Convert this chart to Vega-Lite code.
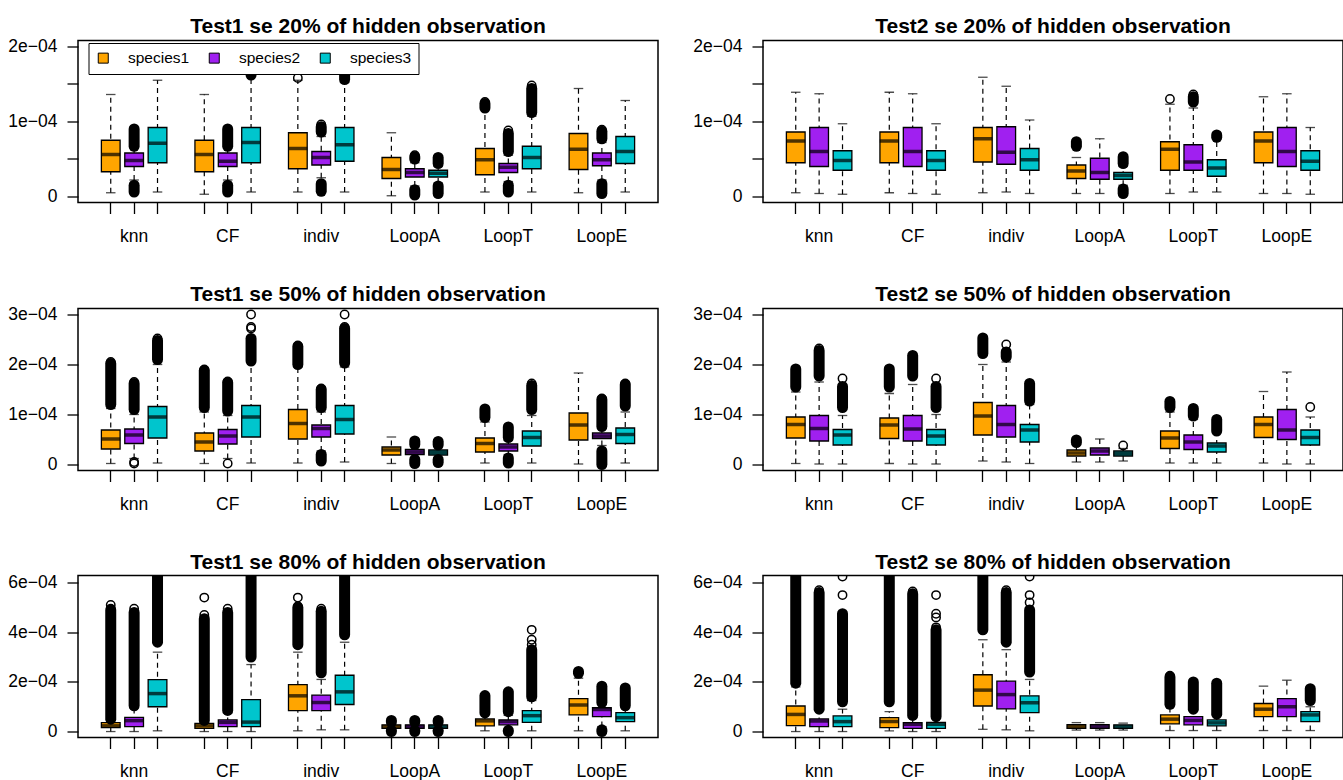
{
"$schema": "https://vega.github.io/schema/vega-lite/v6.json",
"padding": {"left": 7, "top": 14.5, "right": 0, "bottom": 0},
"background": "white",
"columns": 2,
"spacing": {"row": 36, "column": 33},
"resolve": {"scale": {"color": "independent"}, "legend": {"color": "independent"}},
"datasets": {
"boxes": [
{"panel":"T1_20","slot":"knn_1","species":"species1","lo":0.05e-4,"q1":0.33e-4,"med":0.56e-4,"q3":0.75e-4,"hi":1.36e-4},
{"panel":"T1_20","slot":"knn_2","species":"species2","lo":0.22e-4,"q1":0.40e-4,"med":0.48e-4,"q3":0.58e-4,"hi":0.64e-4},
{"panel":"T1_20","slot":"knn_3","species":"species3","lo":0.06e-4,"q1":0.45e-4,"med":0.71e-4,"q3":0.92e-4,"hi":1.55e-4},
{"panel":"T1_20","slot":"CF_1","species":"species1","lo":0.03e-4,"q1":0.33e-4,"med":0.56e-4,"q3":0.75e-4,"hi":1.36e-4},
{"panel":"T1_20","slot":"CF_2","species":"species2","lo":0.22e-4,"q1":0.40e-4,"med":0.47e-4,"q3":0.58e-4,"hi":0.64e-4},
{"panel":"T1_20","slot":"CF_3","species":"species3","lo":0.06e-4,"q1":0.45e-4,"med":0.72e-4,"q3":0.92e-4,"hi":1.61e-4},
{"panel":"T1_20","slot":"indiv_1","species":"species1","lo":0.06e-4,"q1":0.37e-4,"med":0.64e-4,"q3":0.85e-4,"hi":1.55e-4},
{"panel":"T1_20","slot":"indiv_2","species":"species2","lo":0.25e-4,"q1":0.42e-4,"med":0.52e-4,"q3":0.60e-4,"hi":0.80e-4},
{"panel":"T1_20","slot":"indiv_3","species":"species3","lo":0.06e-4,"q1":0.47e-4,"med":0.69e-4,"q3":0.92e-4,"hi":1.52e-4},
{"panel":"T1_20","slot":"LoopA_1","species":"species1","lo":0.01e-4,"q1":0.24e-4,"med":0.36e-4,"q3":0.52e-4,"hi":0.85e-4},
{"panel":"T1_20","slot":"LoopA_2","species":"species2","lo":0.14e-4,"q1":0.26e-4,"med":0.32e-4,"q3":0.37e-4,"hi":0.45e-4},
{"panel":"T1_20","slot":"LoopA_3","species":"species3","lo":0.18e-4,"q1":0.26e-4,"med":0.31e-4,"q3":0.35e-4,"hi":0.40e-4},
{"panel":"T1_20","slot":"LoopT_1","species":"species1","lo":0.06e-4,"q1":0.29e-4,"med":0.49e-4,"q3":0.64e-4,"hi":1.16e-4},
{"panel":"T1_20","slot":"LoopT_2","species":"species2","lo":0.20e-4,"q1":0.32e-4,"med":0.39e-4,"q3":0.44e-4,"hi":0.55e-4},
{"panel":"T1_20","slot":"LoopT_3","species":"species3","lo":0.06e-4,"q1":0.37e-4,"med":0.52e-4,"q3":0.67e-4,"hi":1.07e-4},
{"panel":"T1_20","slot":"LoopE_1","species":"species1","lo":0.05e-4,"q1":0.36e-4,"med":0.63e-4,"q3":0.84e-4,"hi":1.44e-4},
{"panel":"T1_20","slot":"LoopE_2","species":"species2","lo":0.22e-4,"q1":0.41e-4,"med":0.49e-4,"q3":0.58e-4,"hi":0.72e-4},
{"panel":"T1_20","slot":"LoopE_3","species":"species3","lo":0.06e-4,"q1":0.44e-4,"med":0.60e-4,"q3":0.80e-4,"hi":1.28e-4},

{"panel":"T2_20","slot":"knn_1","species":"species1","lo":0.05e-4,"q1":0.45e-4,"med":0.74e-4,"q3":0.86e-4,"hi":1.39e-4},
{"panel":"T2_20","slot":"knn_2","species":"species2","lo":0.04e-4,"q1":0.40e-4,"med":0.60e-4,"q3":0.92e-4,"hi":1.37e-4},
{"panel":"T2_20","slot":"knn_3","species":"species3","lo":0.03e-4,"q1":0.35e-4,"med":0.48e-4,"q3":0.61e-4,"hi":0.97e-4},
{"panel":"T2_20","slot":"CF_1","species":"species1","lo":0.05e-4,"q1":0.45e-4,"med":0.74e-4,"q3":0.86e-4,"hi":1.39e-4},
{"panel":"T2_20","slot":"CF_2","species":"species2","lo":0.04e-4,"q1":0.40e-4,"med":0.60e-4,"q3":0.92e-4,"hi":1.37e-4},
{"panel":"T2_20","slot":"CF_3","species":"species3","lo":0.03e-4,"q1":0.35e-4,"med":0.48e-4,"q3":0.61e-4,"hi":0.97e-4},
{"panel":"T2_20","slot":"indiv_1","species":"species1","lo":0.05e-4,"q1":0.46e-4,"med":0.77e-4,"q3":0.92e-4,"hi":1.59e-4},
{"panel":"T2_20","slot":"indiv_2","species":"species2","lo":0.06e-4,"q1":0.43e-4,"med":0.59e-4,"q3":0.93e-4,"hi":1.47e-4},
{"panel":"T2_20","slot":"indiv_3","species":"species3","lo":0.04e-4,"q1":0.35e-4,"med":0.49e-4,"q3":0.64e-4,"hi":1.02e-4},
{"panel":"T2_20","slot":"LoopA_1","species":"species1","lo":0.04e-4,"q1":0.24e-4,"med":0.34e-4,"q3":0.42e-4,"hi":0.52e-4},
{"panel":"T2_20","slot":"LoopA_2","species":"species2","lo":0.04e-4,"q1":0.23e-4,"med":0.32e-4,"q3":0.51e-4,"hi":0.77e-4},
{"panel":"T2_20","slot":"LoopA_3","species":"species3","lo":0.15e-4,"q1":0.23e-4,"med":0.28e-4,"q3":0.32e-4,"hi":0.40e-4},
{"panel":"T2_20","slot":"LoopT_1","species":"species1","lo":0.04e-4,"q1":0.35e-4,"med":0.63e-4,"q3":0.73e-4,"hi":1.23e-4},
{"panel":"T2_20","slot":"LoopT_2","species":"species2","lo":0.06e-4,"q1":0.35e-4,"med":0.46e-4,"q3":0.69e-4,"hi":1.18e-4},
{"panel":"T2_20","slot":"LoopT_3","species":"species3","lo":0.06e-4,"q1":0.27e-4,"med":0.38e-4,"q3":0.49e-4,"hi":0.76e-4},
{"panel":"T2_20","slot":"LoopE_1","species":"species1","lo":0.04e-4,"q1":0.45e-4,"med":0.74e-4,"q3":0.86e-4,"hi":1.33e-4},
{"panel":"T2_20","slot":"LoopE_2","species":"species2","lo":0.04e-4,"q1":0.40e-4,"med":0.60e-4,"q3":0.92e-4,"hi":1.37e-4},
{"panel":"T2_20","slot":"LoopE_3","species":"species3","lo":0.03e-4,"q1":0.35e-4,"med":0.47e-4,"q3":0.61e-4,"hi":0.92e-4},

{"panel":"T1_50","slot":"knn_1","species":"species1","lo":0.02e-4,"q1":0.31e-4,"med":0.51e-4,"q3":0.69e-4,"hi":1.12e-4},
{"panel":"T1_50","slot":"knn_2","species":"species2","lo":0.12e-4,"q1":0.42e-4,"med":0.59e-4,"q3":0.71e-4,"hi":1.00e-4},
{"panel":"T1_50","slot":"knn_3","species":"species3","lo":0.03e-4,"q1":0.53e-4,"med":0.95e-4,"q3":1.16e-4,"hi":2.00e-4},
{"panel":"T1_50","slot":"CF_1","species":"species1","lo":0.02e-4,"q1":0.27e-4,"med":0.45e-4,"q3":0.63e-4,"hi":1.05e-4},
{"panel":"T1_50","slot":"CF_2","species":"species2","lo":0.12e-4,"q1":0.41e-4,"med":0.57e-4,"q3":0.70e-4,"hi":0.98e-4},
{"panel":"T1_50","slot":"CF_3","species":"species3","lo":0.03e-4,"q1":0.55e-4,"med":0.95e-4,"q3":1.18e-4,"hi":2.05e-4},
{"panel":"T1_50","slot":"indiv_1","species":"species1","lo":0.03e-4,"q1":0.51e-4,"med":0.82e-4,"q3":1.10e-4,"hi":1.95e-4},
{"panel":"T1_50","slot":"indiv_2","species":"species2","lo":0.27e-4,"q1":0.55e-4,"med":0.72e-4,"q3":0.79e-4,"hi":1.05e-4},
{"panel":"T1_50","slot":"indiv_3","species":"species3","lo":0.05e-4,"q1":0.61e-4,"med":0.90e-4,"q3":1.18e-4,"hi":1.95e-4},
{"panel":"T1_50","slot":"LoopA_1","species":"species1","lo":0.02e-4,"q1":0.19e-4,"med":0.29e-4,"q3":0.35e-4,"hi":0.55e-4},
{"panel":"T1_50","slot":"LoopA_2","species":"species2","lo":0.12e-4,"q1":0.20e-4,"med":0.25e-4,"q3":0.30e-4,"hi":0.38e-4},
{"panel":"T1_50","slot":"LoopA_3","species":"species3","lo":0.12e-4,"q1":0.19e-4,"med":0.24e-4,"q3":0.29e-4,"hi":0.36e-4},
{"panel":"T1_50","slot":"LoopT_1","species":"species1","lo":0.03e-4,"q1":0.25e-4,"med":0.42e-4,"q3":0.53e-4,"hi":0.85e-4},
{"panel":"T1_50","slot":"LoopT_2","species":"species2","lo":0.20e-4,"q1":0.27e-4,"med":0.35e-4,"q3":0.41e-4,"hi":0.48e-4},
{"panel":"T1_50","slot":"LoopT_3","species":"species3","lo":0.03e-4,"q1":0.37e-4,"med":0.54e-4,"q3":0.67e-4,"hi":0.98e-4},
{"panel":"T1_50","slot":"LoopE_1","species":"species1","lo":0.01e-4,"q1":0.49e-4,"med":0.79e-4,"q3":1.03e-4,"hi":1.83e-4},
{"panel":"T1_50","slot":"LoopE_2","species":"species2","lo":0.38e-4,"q1":0.52e-4,"med":0.57e-4,"q3":0.63e-4,"hi":0.72e-4},
{"panel":"T1_50","slot":"LoopE_3","species":"species3","lo":0.03e-4,"q1":0.42e-4,"med":0.60e-4,"q3":0.73e-4,"hi":1.05e-4},

{"panel":"T2_50","slot":"knn_1","species":"species1","lo":0.02e-4,"q1":0.53e-4,"med":0.80e-4,"q3":0.95e-4,"hi":1.45e-4},
{"panel":"T2_50","slot":"knn_2","species":"species2","lo":0.01e-4,"q1":0.47e-4,"med":0.72e-4,"q3":0.98e-4,"hi":1.65e-4},
{"panel":"T2_50","slot":"knn_3","species":"species3","lo":0.01e-4,"q1":0.39e-4,"med":0.59e-4,"q3":0.70e-4,"hi":0.98e-4},
{"panel":"T2_50","slot":"CF_1","species":"species1","lo":0.02e-4,"q1":0.52e-4,"med":0.79e-4,"q3":0.93e-4,"hi":1.42e-4},
{"panel":"T2_50","slot":"CF_2","species":"species2","lo":0.01e-4,"q1":0.47e-4,"med":0.71e-4,"q3":0.98e-4,"hi":1.60e-4},
{"panel":"T2_50","slot":"CF_3","species":"species3","lo":0.01e-4,"q1":0.39e-4,"med":0.57e-4,"q3":0.70e-4,"hi":1.00e-4},
{"panel":"T2_50","slot":"indiv_1","species":"species1","lo":0.07e-4,"q1":0.59e-4,"med":0.97e-4,"q3":1.24e-4,"hi":2.00e-4},
{"panel":"T2_50","slot":"indiv_2","species":"species2","lo":0.05e-4,"q1":0.55e-4,"med":0.80e-4,"q3":1.18e-4,"hi":2.05e-4},
{"panel":"T2_50","slot":"indiv_3","species":"species3","lo":0.02e-4,"q1":0.45e-4,"med":0.69e-4,"q3":0.80e-4,"hi":1.20e-4},
{"panel":"T2_50","slot":"LoopA_1","species":"species1","lo":0.05e-4,"q1":0.17e-4,"med":0.23e-4,"q3":0.29e-4,"hi":0.40e-4},
{"panel":"T2_50","slot":"LoopA_2","species":"species2","lo":0.05e-4,"q1":0.19e-4,"med":0.27e-4,"q3":0.33e-4,"hi":0.51e-4},
{"panel":"T2_50","slot":"LoopA_3","species":"species3","lo":0.07e-4,"q1":0.17e-4,"med":0.22e-4,"q3":0.27e-4,"hi":0.32e-4},
{"panel":"T2_50","slot":"LoopT_1","species":"species1","lo":0.03e-4,"q1":0.32e-4,"med":0.53e-4,"q3":0.67e-4,"hi":1.05e-4},
{"panel":"T2_50","slot":"LoopT_2","species":"species2","lo":0.03e-4,"q1":0.30e-4,"med":0.45e-4,"q3":0.59e-4,"hi":0.90e-4},
{"panel":"T2_50","slot":"LoopT_3","species":"species3","lo":0.03e-4,"q1":0.25e-4,"med":0.37e-4,"q3":0.43e-4,"hi":0.70e-4},
{"panel":"T2_50","slot":"LoopE_1","species":"species1","lo":0.03e-4,"q1":0.54e-4,"med":0.80e-4,"q3":0.95e-4,"hi":1.46e-4},
{"panel":"T2_50","slot":"LoopE_2","species":"species2","lo":0.01e-4,"q1":0.50e-4,"med":0.69e-4,"q3":1.10e-4,"hi":1.85e-4},
{"panel":"T2_50","slot":"LoopE_3","species":"species3","lo":0.01e-4,"q1":0.39e-4,"med":0.54e-4,"q3":0.69e-4,"hi":0.95e-4},

{"panel":"T1_80","slot":"knn_1","species":"species1","lo":0.00e-4,"q1":0.16e-4,"med":0.23e-4,"q3":0.36e-4,"hi":0.60e-4},
{"panel":"T1_80","slot":"knn_2","species":"species2","lo":0.00e-4,"q1":0.20e-4,"med":0.44e-4,"q3":0.57e-4,"hi":0.95e-4},
{"panel":"T1_80","slot":"knn_3","species":"species3","lo":0.03e-4,"q1":1.00e-4,"med":1.53e-4,"q3":2.09e-4,"hi":3.20e-4},
{"panel":"T1_80","slot":"CF_1","species":"species1","lo":0.00e-4,"q1":0.13e-4,"med":0.23e-4,"q3":0.33e-4,"hi":0.55e-4},
{"panel":"T1_80","slot":"CF_2","species":"species2","lo":0.00e-4,"q1":0.20e-4,"med":0.37e-4,"q3":0.47e-4,"hi":0.75e-4},
{"panel":"T1_80","slot":"CF_3","species":"species3","lo":0.00e-4,"q1":0.20e-4,"med":0.38e-4,"q3":1.29e-4,"hi":2.70e-4},
{"panel":"T1_80","slot":"indiv_1","species":"species1","lo":0.03e-4,"q1":0.84e-4,"med":1.44e-4,"q3":1.89e-4,"hi":3.20e-4},
{"panel":"T1_80","slot":"indiv_2","species":"species2","lo":0.07e-4,"q1":0.84e-4,"med":1.17e-4,"q3":1.47e-4,"hi":2.10e-4},
{"panel":"T1_80","slot":"indiv_3","species":"species3","lo":0.07e-4,"q1":1.09e-4,"med":1.60e-4,"q3":2.27e-4,"hi":3.60e-4},
{"panel":"T1_80","slot":"LoopA_1","species":"species1","lo":0.07e-4,"q1":0.13e-4,"med":0.20e-4,"q3":0.27e-4,"hi":0.33e-4},
{"panel":"T1_80","slot":"LoopA_2","species":"species2","lo":0.07e-4,"q1":0.13e-4,"med":0.20e-4,"q3":0.27e-4,"hi":0.33e-4},
{"panel":"T1_80","slot":"LoopA_3","species":"species3","lo":0.07e-4,"q1":0.13e-4,"med":0.20e-4,"q3":0.27e-4,"hi":0.33e-4},
{"panel":"T1_80","slot":"LoopT_1","species":"species1","lo":0.03e-4,"q1":0.23e-4,"med":0.43e-4,"q3":0.51e-4,"hi":0.70e-4},
{"panel":"T1_80","slot":"LoopT_2","species":"species2","lo":0.10e-4,"q1":0.27e-4,"med":0.40e-4,"q3":0.47e-4,"hi":0.65e-4},
{"panel":"T1_80","slot":"LoopT_3","species":"species3","lo":0.03e-4,"q1":0.37e-4,"med":0.64e-4,"q3":0.84e-4,"hi":1.25e-4},
{"panel":"T1_80","slot":"LoopE_1","species":"species1","lo":0.03e-4,"q1":0.67e-4,"med":1.07e-4,"q3":1.33e-4,"hi":2.15e-4},
{"panel":"T1_80","slot":"LoopE_2","species":"species2","lo":0.20e-4,"q1":0.60e-4,"med":0.89e-4,"q3":0.96e-4,"hi":1.10e-4},
{"panel":"T1_80","slot":"LoopE_3","species":"species3","lo":0.03e-4,"q1":0.40e-4,"med":0.56e-4,"q3":0.76e-4,"hi":1.00e-4},

{"panel":"T2_80","slot":"knn_1","species":"species1","lo":0.00e-4,"q1":0.24e-4,"med":0.69e-4,"q3":1.03e-4,"hi":1.80e-4},
{"panel":"T2_80","slot":"knn_2","species":"species2","lo":0.00e-4,"q1":0.20e-4,"med":0.43e-4,"q3":0.51e-4,"hi":0.85e-4},
{"panel":"T2_80","slot":"knn_3","species":"species3","lo":0.00e-4,"q1":0.20e-4,"med":0.40e-4,"q3":0.63e-4,"hi":0.90e-4},
{"panel":"T2_80","slot":"CF_1","species":"species1","lo":0.03e-4,"q1":0.16e-4,"med":0.40e-4,"q3":0.56e-4,"hi":0.80e-4},
{"panel":"T2_80","slot":"CF_2","species":"species2","lo":0.00e-4,"q1":0.13e-4,"med":0.29e-4,"q3":0.36e-4,"hi":0.60e-4},
{"panel":"T2_80","slot":"CF_3","species":"species3","lo":0.00e-4,"q1":0.13e-4,"med":0.29e-4,"q3":0.37e-4,"hi":0.55e-4},
{"panel":"T2_80","slot":"indiv_1","species":"species1","lo":0.09e-4,"q1":1.03e-4,"med":1.67e-4,"q3":2.29e-4,"hi":3.70e-4},
{"panel":"T2_80","slot":"indiv_2","species":"species2","lo":0.07e-4,"q1":0.91e-4,"med":1.49e-4,"q3":2.03e-4,"hi":3.30e-4},
{"panel":"T2_80","slot":"indiv_3","species":"species3","lo":0.03e-4,"q1":0.76e-4,"med":1.16e-4,"q3":1.44e-4,"hi":2.10e-4},
{"panel":"T2_80","slot":"LoopA_1","species":"species1","lo":0.06e-4,"q1":0.13e-4,"med":0.20e-4,"q3":0.28e-4,"hi":0.36e-4},
{"panel":"T2_80","slot":"LoopA_2","species":"species2","lo":0.06e-4,"q1":0.13e-4,"med":0.20e-4,"q3":0.28e-4,"hi":0.36e-4},
{"panel":"T2_80","slot":"LoopA_3","species":"species3","lo":0.06e-4,"q1":0.13e-4,"med":0.20e-4,"q3":0.27e-4,"hi":0.34e-4},
{"panel":"T2_80","slot":"LoopT_1","species":"species1","lo":0.04e-4,"q1":0.31e-4,"med":0.50e-4,"q3":0.67e-4,"hi":1.00e-4},
{"panel":"T2_80","slot":"LoopT_2","species":"species2","lo":0.04e-4,"q1":0.27e-4,"med":0.45e-4,"q3":0.60e-4,"hi":0.85e-4},
{"panel":"T2_80","slot":"LoopT_3","species":"species3","lo":0.04e-4,"q1":0.23e-4,"med":0.35e-4,"q3":0.47e-4,"hi":0.65e-4},
{"panel":"T2_80","slot":"LoopE_1","species":"species1","lo":0.04e-4,"q1":0.60e-4,"med":0.90e-4,"q3":1.13e-4,"hi":1.83e-4},
{"panel":"T2_80","slot":"LoopE_2","species":"species2","lo":0.04e-4,"q1":0.60e-4,"med":1.00e-4,"q3":1.33e-4,"hi":2.07e-4},
{"panel":"T2_80","slot":"LoopE_3","species":"species3","lo":0.04e-4,"q1":0.40e-4,"med":0.67e-4,"q3":0.80e-4,"hi":1.00e-4}
],
"runs": [
{"panel":"T1_20","slot":"knn_2","from":0.67e-4,"to":0.90e-4},
{"panel":"T1_20","slot":"knn_2","from":0.06e-4,"to":0.15e-4},
{"panel":"T1_20","slot":"CF_2","from":0.67e-4,"to":0.90e-4},
{"panel":"T1_20","slot":"CF_2","from":0.06e-4,"to":0.15e-4},
{"panel":"T1_20","slot":"CF_3","from":1.62e-4,"to":1.66e-4},
{"panel":"T1_20","slot":"indiv_2","from":0.86e-4,"to":0.93e-4},
{"panel":"T1_20","slot":"indiv_2","from":0.07e-4,"to":0.17e-4},
{"panel":"T1_20","slot":"indiv_3","from":1.56e-4,"to":1.62e-4},
{"panel":"T1_20","slot":"LoopA_2","from":0.50e-4,"to":0.53e-4},
{"panel":"T1_20","slot":"LoopA_2","from":0.02e-4,"to":0.09e-4},
{"panel":"T1_20","slot":"LoopA_3","from":0.44e-4,"to":0.52e-4},
{"panel":"T1_20","slot":"LoopA_3","from":0.04e-4,"to":0.14e-4},
{"panel":"T1_20","slot":"LoopT_1","from":1.18e-4,"to":1.24e-4},
{"panel":"T1_20","slot":"LoopT_2","from":0.60e-4,"to":0.84e-4},
{"panel":"T1_20","slot":"LoopT_2","from":0.06e-4,"to":0.15e-4},
{"panel":"T1_20","slot":"LoopT_3","from":1.12e-4,"to":1.44e-4},
{"panel":"T1_20","slot":"LoopE_2","from":0.77e-4,"to":0.87e-4},
{"panel":"T1_20","slot":"LoopE_2","from":0.04e-4,"to":0.17e-4},

{"panel":"T2_20","slot":"LoopA_1","from":0.67e-4,"to":0.73e-4},
{"panel":"T2_20","slot":"LoopA_3","from":0.44e-4,"to":0.53e-4},
{"panel":"T2_20","slot":"LoopA_3","from":0.04e-4,"to":0.10e-4},
{"panel":"T2_20","slot":"LoopT_2","from":1.26e-4,"to":1.33e-4},
{"panel":"T2_20","slot":"LoopT_3","from":0.79e-4,"to":0.82e-4},

{"panel":"T1_50","slot":"knn_1","from":1.20e-4,"to":2.02e-4},
{"panel":"T1_50","slot":"knn_2","from":1.10e-4,"to":1.62e-4},
{"panel":"T1_50","slot":"knn_3","from":2.10e-4,"to":2.48e-4},
{"panel":"T1_50","slot":"CF_1","from":1.14e-4,"to":1.88e-4},
{"panel":"T1_50","slot":"CF_2","from":1.07e-4,"to":1.64e-4},
{"panel":"T1_50","slot":"CF_3","from":2.07e-4,"to":2.52e-4},
{"panel":"T1_50","slot":"indiv_1","from":2.00e-4,"to":2.36e-4},
{"panel":"T1_50","slot":"indiv_2","from":1.14e-4,"to":1.50e-4},
{"panel":"T1_50","slot":"indiv_2","from":0.07e-4,"to":0.20e-4},
{"panel":"T1_50","slot":"indiv_3","from":2.03e-4,"to":2.72e-4},
{"panel":"T1_50","slot":"LoopA_2","from":0.40e-4,"to":0.47e-4},
{"panel":"T1_50","slot":"LoopA_2","from":0.02e-4,"to":0.10e-4},
{"panel":"T1_50","slot":"LoopA_3","from":0.39e-4,"to":0.46e-4},
{"panel":"T1_50","slot":"LoopA_3","from":0.04e-4,"to":0.10e-4},
{"panel":"T1_50","slot":"LoopT_1","from":0.94e-4,"to":1.11e-4},
{"panel":"T1_50","slot":"LoopT_2","from":0.54e-4,"to":0.75e-4},
{"panel":"T1_50","slot":"LoopT_2","from":0.03e-4,"to":0.13e-4},
{"panel":"T1_50","slot":"LoopT_3","from":1.10e-4,"to":1.58e-4},
{"panel":"T1_50","slot":"LoopE_2","from":0.76e-4,"to":1.30e-4},
{"panel":"T1_50","slot":"LoopE_2","from":0.00e-4,"to":0.27e-4},
{"panel":"T1_50","slot":"LoopE_3","from":1.17e-4,"to":1.60e-4},

{"panel":"T2_50","slot":"knn_1","from":1.55e-4,"to":1.91e-4},
{"panel":"T2_50","slot":"knn_2","from":1.77e-4,"to":2.28e-4},
{"panel":"T2_50","slot":"knn_3","from":1.14e-4,"to":1.56e-4},
{"panel":"T2_50","slot":"CF_1","from":1.55e-4,"to":1.91e-4},
{"panel":"T2_50","slot":"CF_2","from":1.77e-4,"to":2.18e-4},
{"panel":"T2_50","slot":"CF_3","from":1.14e-4,"to":1.56e-4},
{"panel":"T2_50","slot":"indiv_1","from":2.22e-4,"to":2.53e-4},
{"panel":"T2_50","slot":"indiv_2","from":2.15e-4,"to":2.25e-4},
{"panel":"T2_50","slot":"indiv_3","from":1.27e-4,"to":1.62e-4},
{"panel":"T2_50","slot":"LoopA_1","from":0.44e-4,"to":0.49e-4},
{"panel":"T2_50","slot":"LoopT_1","from":1.14e-4,"to":1.26e-4},
{"panel":"T2_50","slot":"LoopT_2","from":0.97e-4,"to":1.12e-4},
{"panel":"T2_50","slot":"LoopT_3","from":0.67e-4,"to":0.90e-4},

{"panel":"T1_80","slot":"knn_1","from":0.50e-4,"to":4.90e-4},
{"panel":"T1_80","slot":"knn_2","from":1.04e-4,"to":4.80e-4},
{"panel":"T1_80","slot":"knn_3","from":3.60e-4,"to":6.60e-4},
{"panel":"T1_80","slot":"CF_1","from":0.45e-4,"to":4.55e-4},
{"panel":"T1_80","slot":"CF_2","from":0.85e-4,"to":4.80e-4},
{"panel":"T1_80","slot":"CF_3","from":3.00e-4,"to":6.60e-4},
{"panel":"T1_80","slot":"indiv_1","from":3.50e-4,"to":5.00e-4},
{"panel":"T1_80","slot":"indiv_2","from":2.37e-4,"to":4.85e-4},
{"panel":"T1_80","slot":"indiv_3","from":3.90e-4,"to":6.60e-4},
{"panel":"T1_80","slot":"LoopA_1","from":0.38e-4,"to":0.45e-4},
{"panel":"T1_80","slot":"LoopA_1","from":0.00e-4,"to":0.05e-4},
{"panel":"T1_80","slot":"LoopA_2","from":0.38e-4,"to":0.45e-4},
{"panel":"T1_80","slot":"LoopA_2","from":0.00e-4,"to":0.05e-4},
{"panel":"T1_80","slot":"LoopA_3","from":0.38e-4,"to":0.45e-4},
{"panel":"T1_80","slot":"LoopA_3","from":0.00e-4,"to":0.05e-4},
{"panel":"T1_80","slot":"LoopT_1","from":0.75e-4,"to":1.45e-4},
{"panel":"T1_80","slot":"LoopT_2","from":0.80e-4,"to":1.60e-4},
{"panel":"T1_80","slot":"LoopT_2","from":0.00e-4,"to":0.05e-4},
{"panel":"T1_80","slot":"LoopT_3","from":1.40e-4,"to":3.30e-4},
{"panel":"T1_80","slot":"LoopE_1","from":2.35e-4,"to":2.42e-4},
{"panel":"T1_80","slot":"LoopE_2","from":1.17e-4,"to":1.83e-4},
{"panel":"T1_80","slot":"LoopE_2","from":0.00e-4,"to":0.07e-4},
{"panel":"T1_80","slot":"LoopE_3","from":1.04e-4,"to":1.76e-4},

{"panel":"T2_80","slot":"knn_1","from":1.95e-4,"to":6.60e-4},
{"panel":"T2_80","slot":"knn_2","from":0.90e-4,"to":5.60e-4},
{"panel":"T2_80","slot":"knn_3","from":1.20e-4,"to":4.75e-4},
{"panel":"T2_80","slot":"CF_1","from":1.20e-4,"to":6.60e-4},
{"panel":"T2_80","slot":"CF_2","from":0.65e-4,"to":5.55e-4},
{"panel":"T2_80","slot":"CF_3","from":0.60e-4,"to":4.10e-4},
{"panel":"T2_80","slot":"indiv_1","from":4.10e-4,"to":6.60e-4},
{"panel":"T2_80","slot":"indiv_2","from":3.60e-4,"to":5.60e-4},
{"panel":"T2_80","slot":"indiv_3","from":2.40e-4,"to":4.90e-4},
{"panel":"T2_80","slot":"LoopT_1","from":1.10e-4,"to":2.20e-4},
{"panel":"T2_80","slot":"LoopT_2","from":0.90e-4,"to":2.00e-4},
{"panel":"T2_80","slot":"LoopT_3","from":0.70e-4,"to":1.95e-4},
{"panel":"T2_80","slot":"LoopE_3","from":1.25e-4,"to":1.73e-4}
],
"points": [
{"panel":"T1_20","slot":"indiv_1","se":1.58e-4},
{"panel":"T1_20","slot":"indiv_2","se":0.96e-4},
{"panel":"T1_20","slot":"LoopA_2","se":0.55e-4},
{"panel":"T1_20","slot":"LoopT_1","se":1.26e-4},
{"panel":"T1_20","slot":"LoopT_2","se":0.88e-4},
{"panel":"T1_20","slot":"LoopT_3","se":1.48e-4},
{"panel":"T1_20","slot":"LoopE_2","se":0.89e-4},
{"panel":"T2_20","slot":"LoopT_1","se":1.30e-4},
{"panel":"T2_20","slot":"LoopT_2","se":1.36e-4},
{"panel":"T1_50","slot":"knn_1","se":2.05e-4},
{"panel":"T1_50","slot":"knn_2","se":1.65e-4},
{"panel":"T1_50","slot":"knn_2","se":0.02e-4},
{"panel":"T1_50","slot":"knn_2","se":0.05e-4},
{"panel":"T1_50","slot":"knn_3","se":2.52e-4},
{"panel":"T1_50","slot":"CF_1","se":1.90e-4},
{"panel":"T1_50","slot":"CF_2","se":1.66e-4},
{"panel":"T1_50","slot":"CF_2","se":0.02e-4},
{"panel":"T1_50","slot":"CF_3","se":2.72e-4},
{"panel":"T1_50","slot":"CF_3","se":2.75e-4},
{"panel":"T1_50","slot":"CF_3","se":3.00e-4},
{"panel":"T1_50","slot":"indiv_1","se":2.38e-4},
{"panel":"T1_50","slot":"indiv_2","se":1.52e-4},
{"panel":"T1_50","slot":"indiv_3","se":2.75e-4},
{"panel":"T1_50","slot":"indiv_3","se":3.00e-4},
{"panel":"T1_50","slot":"LoopT_3","se":1.62e-4},
{"panel":"T1_50","slot":"LoopE_2","se":1.32e-4},
{"panel":"T1_50","slot":"LoopE_3","se":1.62e-4},
{"panel":"T2_50","slot":"knn_2","se":2.32e-4},
{"panel":"T2_50","slot":"knn_3","se":1.72e-4},
{"panel":"T2_50","slot":"CF_3","se":1.72e-4},
{"panel":"T2_50","slot":"indiv_2","se":2.40e-4},
{"panel":"T2_50","slot":"LoopA_3","se":0.38e-4},
{"panel":"T2_50","slot":"LoopT_1","se":1.22e-4},
{"panel":"T2_50","slot":"LoopE_3","se":1.15e-4},
{"panel":"T1_80","slot":"knn_1","se":5.10e-4},
{"panel":"T1_80","slot":"knn_1","se":4.95e-4},
{"panel":"T1_80","slot":"knn_2","se":4.95e-4},
{"panel":"T1_80","slot":"CF_1","se":4.70e-4},
{"panel":"T1_80","slot":"CF_1","se":5.40e-4},
{"panel":"T1_80","slot":"CF_2","se":4.95e-4},
{"panel":"T1_80","slot":"indiv_1","se":5.40e-4},
{"panel":"T1_80","slot":"indiv_1","se":5.05e-4},
{"panel":"T1_80","slot":"indiv_2","se":4.95e-4},
{"panel":"T1_80","slot":"LoopT_3","se":3.50e-4},
{"panel":"T1_80","slot":"LoopT_3","se":3.70e-4},
{"panel":"T1_80","slot":"LoopT_3","se":4.10e-4},
{"panel":"T1_80","slot":"LoopE_1","se":2.40e-4},
{"panel":"T2_80","slot":"knn_2","se":5.70e-4},
{"panel":"T2_80","slot":"knn_3","se":5.50e-4},
{"panel":"T2_80","slot":"knn_3","se":6.25e-4},
{"panel":"T2_80","slot":"CF_2","se":5.65e-4},
{"panel":"T2_80","slot":"CF_3","se":4.20e-4},
{"panel":"T2_80","slot":"CF_3","se":4.60e-4},
{"panel":"T2_80","slot":"CF_3","se":4.75e-4},
{"panel":"T2_80","slot":"CF_3","se":5.50e-4},
{"panel":"T2_80","slot":"indiv_2","se":5.70e-4},
{"panel":"T2_80","slot":"indiv_3","se":5.20e-4},
{"panel":"T2_80","slot":"indiv_3","se":5.50e-4},
{"panel":"T2_80","slot":"indiv_3","se":6.25e-4},
{"panel":"T2_80","slot":"LoopT_1","se":2.25e-4}
]
},
"concat": [
{
"width": 580, "height": 162,
"title": "Test1 se 20% of hidden observation",
"encoding": {"x": {"field": "slot", "type": "nominal", "title": null, "scale": {"domain": ["knn_1","knn_2","knn_3","g1","CF_1","CF_2","CF_3","g2","indiv_1","indiv_2","indiv_3","g3","LoopA_1","LoopA_2","LoopA_3","g4","LoopT_1","LoopT_2","LoopT_3","g5","LoopE_1","LoopE_2","LoopE_3"], "paddingInner": 0.2, "paddingOuter": 1}, "axis": {"values": ["knn_1","knn_2","knn_3","CF_1","CF_2","CF_3","indiv_1","indiv_2","indiv_3","LoopA_1","LoopA_2","LoopA_3","LoopT_1","LoopT_2","LoopT_3","LoopE_1","LoopE_2","LoopE_3"], "labelExpr": "split(datum.value, '_')[1] == '2' ? split(datum.value, '_')[0] : ''"}}},
"layer": [
{"data": {"name": "boxes"}, "transform": [{"filter": "datum.panel == 'T1_20'"}], "mark": {"type": "rule", "color": "black", "strokeWidth": 1.2, "strokeDash": [5, 4]}, "encoding": {"y": {"field": "lo", "type": "quantitative", "title": null, "scale": {"domain": [-0.08e-4, 2.08e-4], "nice": false, "zero": false}, "axis": {"values": [0, 0.5e-4, 1e-4, 1.5e-4, 2e-4], "labelExpr": "datum.value == 0 ? '0' : (abs(datum.value*1e4 - round(datum.value*1e4)) < 1e-6 ? round(datum.value*1e4) + 'e−04' : '')"}}, "y2": {"field": "hi"}}},
{"data": {"name": "boxes"}, "transform": [{"filter": "datum.panel == 'T1_20'"}], "mark": {"type": "tick", "orient": "horizontal", "size": 9.5, "thickness": 1.3, "color": "black"}, "encoding": {"y": {"field": "lo", "type": "quantitative", "title": null}}},
{"data": {"name": "boxes"}, "transform": [{"filter": "datum.panel == 'T1_20'"}], "mark": {"type": "tick", "orient": "horizontal", "size": 9.5, "thickness": 1.3, "color": "black"}, "encoding": {"y": {"field": "hi", "type": "quantitative", "title": null}}},
{"data": {"name": "boxes"}, "transform": [{"filter": "datum.panel == 'T1_20'"}], "mark": {"type": "bar", "stroke": "black", "strokeWidth": 1.3}, "encoding": {"y": {"field": "q1", "type": "quantitative", "title": null}, "y2": {"field": "q3"}, "color": {"field": "species", "type": "nominal", "legend": {"orient": "none", "legendX": 10.5, "legendY": 2.5, "direction": "horizontal", "title": null, "symbolType": "square", "symbolSize": 100, "symbolStrokeColor": "black", "symbolStrokeWidth": 1, "labelFontSize": 15.5, "labelColor": "black", "labelOffset": 17, "columnPadding": 17, "strokeColor": "black", "padding": 7, "fillColor": "white"}}}},
{"data": {"name": "boxes"}, "transform": [{"filter": "datum.panel == 'T1_20'"}], "mark": {"type": "tick", "orient": "horizontal", "size": 19, "thickness": 3.5, "color": "black"}, "encoding": {"y": {"field": "med", "type": "quantitative", "title": null}}},
{"data": {"name": "runs"}, "transform": [{"filter": "datum.panel == 'T1_20'"}], "mark": {"type": "rule", "color": "black", "strokeWidth": 11, "strokeCap": "round", "clip": true}, "encoding": {"y": {"field": "from", "type": "quantitative", "title": null}, "y2": {"field": "to"}}},
{"data": {"name": "points"}, "transform": [{"filter": "datum.panel == 'T1_20'"}], "mark": {"type": "point", "shape": "circle", "filled": false, "size": 70, "color": "black", "strokeWidth": 1.5, "opacity": 1, "clip": true}, "encoding": {"y": {"field": "se", "type": "quantitative", "title": null}}}
]
},
{
"width": 580, "height": 162,
"title": "Test2 se 20% of hidden observation",
"encoding": {"x": {"field": "slot", "type": "nominal", "title": null, "scale": {"domain": ["knn_1","knn_2","knn_3","g1","CF_1","CF_2","CF_3","g2","indiv_1","indiv_2","indiv_3","g3","LoopA_1","LoopA_2","LoopA_3","g4","LoopT_1","LoopT_2","LoopT_3","g5","LoopE_1","LoopE_2","LoopE_3"], "paddingInner": 0.2, "paddingOuter": 1}, "axis": {"values": ["knn_1","knn_2","knn_3","CF_1","CF_2","CF_3","indiv_1","indiv_2","indiv_3","LoopA_1","LoopA_2","LoopA_3","LoopT_1","LoopT_2","LoopT_3","LoopE_1","LoopE_2","LoopE_3"], "labelExpr": "split(datum.value, '_')[1] == '2' ? split(datum.value, '_')[0] : ''"}}},
"layer": [
{"data": {"name": "boxes"}, "transform": [{"filter": "datum.panel == 'T2_20'"}], "mark": {"type": "rule", "color": "black", "strokeWidth": 1.2, "strokeDash": [5, 4]}, "encoding": {"y": {"field": "lo", "type": "quantitative", "title": null, "scale": {"domain": [-0.08e-4, 2.08e-4], "nice": false, "zero": false}, "axis": {"values": [0, 0.5e-4, 1e-4, 1.5e-4, 2e-4], "labelExpr": "datum.value == 0 ? '0' : (abs(datum.value*1e4 - round(datum.value*1e4)) < 1e-6 ? round(datum.value*1e4) + 'e−04' : '')"}}, "y2": {"field": "hi"}}},
{"data": {"name": "boxes"}, "transform": [{"filter": "datum.panel == 'T2_20'"}], "mark": {"type": "tick", "orient": "horizontal", "size": 9.5, "thickness": 1.3, "color": "black"}, "encoding": {"y": {"field": "lo", "type": "quantitative", "title": null}}},
{"data": {"name": "boxes"}, "transform": [{"filter": "datum.panel == 'T2_20'"}], "mark": {"type": "tick", "orient": "horizontal", "size": 9.5, "thickness": 1.3, "color": "black"}, "encoding": {"y": {"field": "hi", "type": "quantitative", "title": null}}},
{"data": {"name": "boxes"}, "transform": [{"filter": "datum.panel == 'T2_20'"}], "mark": {"type": "bar", "stroke": "black", "strokeWidth": 1.3}, "encoding": {"y": {"field": "q1", "type": "quantitative", "title": null}, "y2": {"field": "q3"}, "color": {"field": "species", "type": "nominal", "legend": null}}},
{"data": {"name": "boxes"}, "transform": [{"filter": "datum.panel == 'T2_20'"}], "mark": {"type": "tick", "orient": "horizontal", "size": 19, "thickness": 3.5, "color": "black"}, "encoding": {"y": {"field": "med", "type": "quantitative", "title": null}}},
{"data": {"name": "runs"}, "transform": [{"filter": "datum.panel == 'T2_20'"}], "mark": {"type": "rule", "color": "black", "strokeWidth": 11, "strokeCap": "round", "clip": true}, "encoding": {"y": {"field": "from", "type": "quantitative", "title": null}, "y2": {"field": "to"}}},
{"data": {"name": "points"}, "transform": [{"filter": "datum.panel == 'T2_20'"}], "mark": {"type": "point", "shape": "circle", "filled": false, "size": 70, "color": "black", "strokeWidth": 1.5, "opacity": 1, "clip": true}, "encoding": {"y": {"field": "se", "type": "quantitative", "title": null}}}
]
},
{
"width": 580, "height": 162,
"title": "Test1 se 50% of hidden observation",
"encoding": {"x": {"field": "slot", "type": "nominal", "title": null, "scale": {"domain": ["knn_1","knn_2","knn_3","g1","CF_1","CF_2","CF_3","g2","indiv_1","indiv_2","indiv_3","g3","LoopA_1","LoopA_2","LoopA_3","g4","LoopT_1","LoopT_2","LoopT_3","g5","LoopE_1","LoopE_2","LoopE_3"], "paddingInner": 0.2, "paddingOuter": 1}, "axis": {"values": ["knn_1","knn_2","knn_3","CF_1","CF_2","CF_3","indiv_1","indiv_2","indiv_3","LoopA_1","LoopA_2","LoopA_3","LoopT_1","LoopT_2","LoopT_3","LoopE_1","LoopE_2","LoopE_3"], "labelExpr": "split(datum.value, '_')[1] == '2' ? split(datum.value, '_')[0] : ''"}}},
"layer": [
{"data": {"name": "boxes"}, "transform": [{"filter": "datum.panel == 'T1_50'"}], "mark": {"type": "rule", "color": "black", "strokeWidth": 1.2, "strokeDash": [5, 4]}, "encoding": {"y": {"field": "lo", "type": "quantitative", "title": null, "scale": {"domain": [-0.12e-4, 3.12e-4], "nice": false, "zero": false}, "axis": {"values": [0, 1e-4, 2e-4, 3e-4], "labelExpr": "datum.value == 0 ? '0' : (abs(datum.value*1e4 - round(datum.value*1e4)) < 1e-6 ? round(datum.value*1e4) + 'e−04' : '')"}}, "y2": {"field": "hi"}}},
{"data": {"name": "boxes"}, "transform": [{"filter": "datum.panel == 'T1_50'"}], "mark": {"type": "tick", "orient": "horizontal", "size": 9.5, "thickness": 1.3, "color": "black"}, "encoding": {"y": {"field": "lo", "type": "quantitative", "title": null}}},
{"data": {"name": "boxes"}, "transform": [{"filter": "datum.panel == 'T1_50'"}], "mark": {"type": "tick", "orient": "horizontal", "size": 9.5, "thickness": 1.3, "color": "black"}, "encoding": {"y": {"field": "hi", "type": "quantitative", "title": null}}},
{"data": {"name": "boxes"}, "transform": [{"filter": "datum.panel == 'T1_50'"}], "mark": {"type": "bar", "stroke": "black", "strokeWidth": 1.3}, "encoding": {"y": {"field": "q1", "type": "quantitative", "title": null}, "y2": {"field": "q3"}, "color": {"field": "species", "type": "nominal", "legend": null}}},
{"data": {"name": "boxes"}, "transform": [{"filter": "datum.panel == 'T1_50'"}], "mark": {"type": "tick", "orient": "horizontal", "size": 19, "thickness": 3.5, "color": "black"}, "encoding": {"y": {"field": "med", "type": "quantitative", "title": null}}},
{"data": {"name": "runs"}, "transform": [{"filter": "datum.panel == 'T1_50'"}], "mark": {"type": "rule", "color": "black", "strokeWidth": 11, "strokeCap": "round", "clip": true}, "encoding": {"y": {"field": "from", "type": "quantitative", "title": null}, "y2": {"field": "to"}}},
{"data": {"name": "points"}, "transform": [{"filter": "datum.panel == 'T1_50'"}], "mark": {"type": "point", "shape": "circle", "filled": false, "size": 70, "color": "black", "strokeWidth": 1.5, "opacity": 1, "clip": true}, "encoding": {"y": {"field": "se", "type": "quantitative", "title": null}}}
]
},
{
"width": 580, "height": 162,
"title": "Test2 se 50% of hidden observation",
"encoding": {"x": {"field": "slot", "type": "nominal", "title": null, "scale": {"domain": ["knn_1","knn_2","knn_3","g1","CF_1","CF_2","CF_3","g2","indiv_1","indiv_2","indiv_3","g3","LoopA_1","LoopA_2","LoopA_3","g4","LoopT_1","LoopT_2","LoopT_3","g5","LoopE_1","LoopE_2","LoopE_3"], "paddingInner": 0.2, "paddingOuter": 1}, "axis": {"values": ["knn_1","knn_2","knn_3","CF_1","CF_2","CF_3","indiv_1","indiv_2","indiv_3","LoopA_1","LoopA_2","LoopA_3","LoopT_1","LoopT_2","LoopT_3","LoopE_1","LoopE_2","LoopE_3"], "labelExpr": "split(datum.value, '_')[1] == '2' ? split(datum.value, '_')[0] : ''"}}},
"layer": [
{"data": {"name": "boxes"}, "transform": [{"filter": "datum.panel == 'T2_50'"}], "mark": {"type": "rule", "color": "black", "strokeWidth": 1.2, "strokeDash": [5, 4]}, "encoding": {"y": {"field": "lo", "type": "quantitative", "title": null, "scale": {"domain": [-0.12e-4, 3.12e-4], "nice": false, "zero": false}, "axis": {"values": [0, 1e-4, 2e-4, 3e-4], "labelExpr": "datum.value == 0 ? '0' : (abs(datum.value*1e4 - round(datum.value*1e4)) < 1e-6 ? round(datum.value*1e4) + 'e−04' : '')"}}, "y2": {"field": "hi"}}},
{"data": {"name": "boxes"}, "transform": [{"filter": "datum.panel == 'T2_50'"}], "mark": {"type": "tick", "orient": "horizontal", "size": 9.5, "thickness": 1.3, "color": "black"}, "encoding": {"y": {"field": "lo", "type": "quantitative", "title": null}}},
{"data": {"name": "boxes"}, "transform": [{"filter": "datum.panel == 'T2_50'"}], "mark": {"type": "tick", "orient": "horizontal", "size": 9.5, "thickness": 1.3, "color": "black"}, "encoding": {"y": {"field": "hi", "type": "quantitative", "title": null}}},
{"data": {"name": "boxes"}, "transform": [{"filter": "datum.panel == 'T2_50'"}], "mark": {"type": "bar", "stroke": "black", "strokeWidth": 1.3}, "encoding": {"y": {"field": "q1", "type": "quantitative", "title": null}, "y2": {"field": "q3"}, "color": {"field": "species", "type": "nominal", "legend": null}}},
{"data": {"name": "boxes"}, "transform": [{"filter": "datum.panel == 'T2_50'"}], "mark": {"type": "tick", "orient": "horizontal", "size": 19, "thickness": 3.5, "color": "black"}, "encoding": {"y": {"field": "med", "type": "quantitative", "title": null}}},
{"data": {"name": "runs"}, "transform": [{"filter": "datum.panel == 'T2_50'"}], "mark": {"type": "rule", "color": "black", "strokeWidth": 11, "strokeCap": "round", "clip": true}, "encoding": {"y": {"field": "from", "type": "quantitative", "title": null}, "y2": {"field": "to"}}},
{"data": {"name": "points"}, "transform": [{"filter": "datum.panel == 'T2_50'"}], "mark": {"type": "point", "shape": "circle", "filled": false, "size": 70, "color": "black", "strokeWidth": 1.5, "opacity": 1, "clip": true}, "encoding": {"y": {"field": "se", "type": "quantitative", "title": null}}}
]
},
{
"width": 580, "height": 162,
"title": "Test1 se 80% of hidden observation",
"encoding": {"x": {"field": "slot", "type": "nominal", "title": null, "scale": {"domain": ["knn_1","knn_2","knn_3","g1","CF_1","CF_2","CF_3","g2","indiv_1","indiv_2","indiv_3","g3","LoopA_1","LoopA_2","LoopA_3","g4","LoopT_1","LoopT_2","LoopT_3","g5","LoopE_1","LoopE_2","LoopE_3"], "paddingInner": 0.2, "paddingOuter": 1}, "axis": {"values": ["knn_1","knn_2","knn_3","CF_1","CF_2","CF_3","indiv_1","indiv_2","indiv_3","LoopA_1","LoopA_2","LoopA_3","LoopT_1","LoopT_2","LoopT_3","LoopE_1","LoopE_2","LoopE_3"], "labelExpr": "split(datum.value, '_')[1] == '2' ? split(datum.value, '_')[0] : ''"}}},
"layer": [
{"data": {"name": "boxes"}, "transform": [{"filter": "datum.panel == 'T1_80'"}], "mark": {"type": "rule", "color": "black", "strokeWidth": 1.2, "strokeDash": [5, 4]}, "encoding": {"y": {"field": "lo", "type": "quantitative", "title": null, "scale": {"domain": [-0.24e-4, 6.29e-4], "nice": false, "zero": false}, "axis": {"values": [0, 2e-4, 4e-4, 6e-4], "labelExpr": "datum.value == 0 ? '0' : (abs(datum.value*1e4 - round(datum.value*1e4)) < 1e-6 ? round(datum.value*1e4) + 'e−04' : '')"}}, "y2": {"field": "hi"}}},
{"data": {"name": "boxes"}, "transform": [{"filter": "datum.panel == 'T1_80'"}], "mark": {"type": "tick", "orient": "horizontal", "size": 9.5, "thickness": 1.3, "color": "black"}, "encoding": {"y": {"field": "lo", "type": "quantitative", "title": null}}},
{"data": {"name": "boxes"}, "transform": [{"filter": "datum.panel == 'T1_80'"}], "mark": {"type": "tick", "orient": "horizontal", "size": 9.5, "thickness": 1.3, "color": "black"}, "encoding": {"y": {"field": "hi", "type": "quantitative", "title": null}}},
{"data": {"name": "boxes"}, "transform": [{"filter": "datum.panel == 'T1_80'"}], "mark": {"type": "bar", "stroke": "black", "strokeWidth": 1.3}, "encoding": {"y": {"field": "q1", "type": "quantitative", "title": null}, "y2": {"field": "q3"}, "color": {"field": "species", "type": "nominal", "legend": null}}},
{"data": {"name": "boxes"}, "transform": [{"filter": "datum.panel == 'T1_80'"}], "mark": {"type": "tick", "orient": "horizontal", "size": 19, "thickness": 3.5, "color": "black"}, "encoding": {"y": {"field": "med", "type": "quantitative", "title": null}}},
{"data": {"name": "runs"}, "transform": [{"filter": "datum.panel == 'T1_80'"}], "mark": {"type": "rule", "color": "black", "strokeWidth": 11, "strokeCap": "round", "clip": true}, "encoding": {"y": {"field": "from", "type": "quantitative", "title": null}, "y2": {"field": "to"}}},
{"data": {"name": "points"}, "transform": [{"filter": "datum.panel == 'T1_80'"}], "mark": {"type": "point", "shape": "circle", "filled": false, "size": 70, "color": "black", "strokeWidth": 1.5, "opacity": 1, "clip": true}, "encoding": {"y": {"field": "se", "type": "quantitative", "title": null}}}
]
},
{
"width": 580, "height": 162,
"title": "Test2 se 80% of hidden observation",
"encoding": {"x": {"field": "slot", "type": "nominal", "title": null, "scale": {"domain": ["knn_1","knn_2","knn_3","g1","CF_1","CF_2","CF_3","g2","indiv_1","indiv_2","indiv_3","g3","LoopA_1","LoopA_2","LoopA_3","g4","LoopT_1","LoopT_2","LoopT_3","g5","LoopE_1","LoopE_2","LoopE_3"], "paddingInner": 0.2, "paddingOuter": 1}, "axis": {"values": ["knn_1","knn_2","knn_3","CF_1","CF_2","CF_3","indiv_1","indiv_2","indiv_3","LoopA_1","LoopA_2","LoopA_3","LoopT_1","LoopT_2","LoopT_3","LoopE_1","LoopE_2","LoopE_3"], "labelExpr": "split(datum.value, '_')[1] == '2' ? split(datum.value, '_')[0] : ''"}}},
"layer": [
{"data": {"name": "boxes"}, "transform": [{"filter": "datum.panel == 'T2_80'"}], "mark": {"type": "rule", "color": "black", "strokeWidth": 1.2, "strokeDash": [5, 4]}, "encoding": {"y": {"field": "lo", "type": "quantitative", "title": null, "scale": {"domain": [-0.24e-4, 6.29e-4], "nice": false, "zero": false}, "axis": {"values": [0, 2e-4, 4e-4, 6e-4], "labelExpr": "datum.value == 0 ? '0' : (abs(datum.value*1e4 - round(datum.value*1e4)) < 1e-6 ? round(datum.value*1e4) + 'e−04' : '')"}}, "y2": {"field": "hi"}}},
{"data": {"name": "boxes"}, "transform": [{"filter": "datum.panel == 'T2_80'"}], "mark": {"type": "tick", "orient": "horizontal", "size": 9.5, "thickness": 1.3, "color": "black"}, "encoding": {"y": {"field": "lo", "type": "quantitative", "title": null}}},
{"data": {"name": "boxes"}, "transform": [{"filter": "datum.panel == 'T2_80'"}], "mark": {"type": "tick", "orient": "horizontal", "size": 9.5, "thickness": 1.3, "color": "black"}, "encoding": {"y": {"field": "hi", "type": "quantitative", "title": null}}},
{"data": {"name": "boxes"}, "transform": [{"filter": "datum.panel == 'T2_80'"}], "mark": {"type": "bar", "stroke": "black", "strokeWidth": 1.3}, "encoding": {"y": {"field": "q1", "type": "quantitative", "title": null}, "y2": {"field": "q3"}, "color": {"field": "species", "type": "nominal", "legend": null}}},
{"data": {"name": "boxes"}, "transform": [{"filter": "datum.panel == 'T2_80'"}], "mark": {"type": "tick", "orient": "horizontal", "size": 19, "thickness": 3.5, "color": "black"}, "encoding": {"y": {"field": "med", "type": "quantitative", "title": null}}},
{"data": {"name": "runs"}, "transform": [{"filter": "datum.panel == 'T2_80'"}], "mark": {"type": "rule", "color": "black", "strokeWidth": 11, "strokeCap": "round", "clip": true}, "encoding": {"y": {"field": "from", "type": "quantitative", "title": null}, "y2": {"field": "to"}}},
{"data": {"name": "points"}, "transform": [{"filter": "datum.panel == 'T2_80'"}], "mark": {"type": "point", "shape": "circle", "filled": false, "size": 70, "color": "black", "strokeWidth": 1.5, "opacity": 1, "clip": true}, "encoding": {"y": {"field": "se", "type": "quantitative", "title": null}}}
]
}
],
"config": {
"font": "Liberation Sans",
"view": {"stroke": "black", "strokeWidth": 1.5},
"axis": {"domain": false, "grid": false, "ticks": true, "tickColor": "black", "tickSize": 11, "tickWidth": 1.3, "labelFontSize": 17.5, "labelColor": "black", "labelOverlap": false, "labelBound": false, "labelFont": "Liberation Sans"},
"axisX": {"labelPadding": 14, "labelAngle": 0},
"axisY": {"labelPadding": 10},
"title": {"fontSize": 21, "fontWeight": "bold", "color": "black", "anchor": "middle", "frame": "group", "offset": 1, "baseline": "alphabetic", "font": "Liberation Sans"},
"legend": {"labelFont": "Liberation Sans"},
"range": {"category": ["#FFA500", "#A020F0", "#00C5CD"]}
}
}
